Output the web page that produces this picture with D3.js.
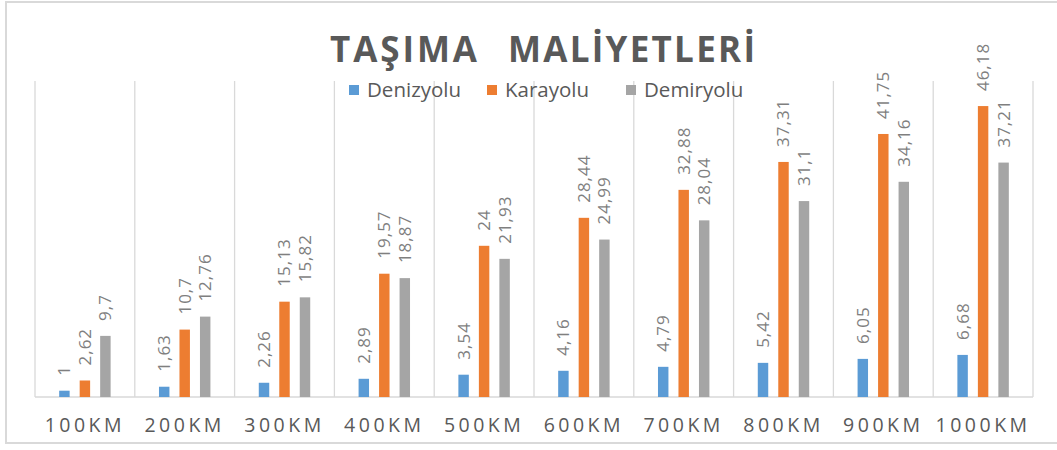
<!DOCTYPE html>
<html lang="tr"><head><meta charset="UTF-8">
<title>Taşıma Maliyetleri</title>
<script src="https://d3js.org/d3.v7.min.js"></script>
<style>
  body { margin: 0; background: #fff; }
  text { font-family: "Open Sans", "Liberation Sans", sans-serif; }
</style>
</head>
<body>
<script>
// chart data
var categories = ["100KM", "200KM", "300KM", "400KM", "500KM", "600KM", "700KM", "800KM", "900KM", "1000KM"];
var seriesNames = ["Denizyolu", "Karayolu", "Demiryolu"];
var denizyolu = [1, 1.63, 2.26, 2.89, 3.54, 4.16, 4.79, 5.42, 6.05, 6.68];
var karayolu = [2.62, 10.7, 15.13, 19.57, 24, 28.44, 32.88, 37.31, 41.75, 46.18];
var demiryolu = [9.7, 12.76, 15.82, 18.87, 21.93, 24.99, 28.04, 31.1, 34.16, 37.21];
var colors = ["#5b9bd5", "#ed7d31", "#a5a5a5"];
var titleWords = ["TAŞIMA", "MALİYETLERİ"];

var w = 1057, h = 450;
var values = [denizyolu, karayolu, demiryolu];

var svg = d3.select("body").append("svg")
  .attr("width", w).attr("height", h);

// outer frame
svg.append("rect")
  .attr("x", 6).attr("y", 2).attr("width", 1060).attr("height", 441)
  .attr("fill", "#fff").attr("stroke", "#d9d9d9").attr("stroke-width", 2);

var x0 = d3.scaleBand().domain(categories).range([35, 1033]).padding(0);
var x1 = d3.scaleBand().domain(seriesNames).range([0, x0.bandwidth()])
  .paddingInner(0.49).paddingOuter(1.18);
var y = d3.scaleLinear().domain([0, 50]).range([397, 82]);

// vertical gridlines
svg.append("g").selectAll("line")
  .data(categories.concat(["end"]))
  .enter().append("line")
  .attr("x1", function(d, i) { return 35 + i * x0.step(); })
  .attr("x2", function(d, i) { return 35 + i * x0.step(); })
  .attr("y1", y(50) - 1).attr("y2", y(0))
  .attr("stroke", "#d9d9d9").attr("stroke-width", 1.3);

// baseline
svg.append("line")
  .attr("x1", 35).attr("x2", 1033)
  .attr("y1", y(0)).attr("y2", y(0))
  .attr("stroke", "#d9d9d9").attr("stroke-width", 1.5);

// bars + labels
var groups = svg.append("g").selectAll("g")
  .data(categories)
  .enter().append("g")
  .attr("transform", function(d) { return "translate(" + x0(d) + ",0)"; });

groups.selectAll("rect")
  .data(function(d, i) { return seriesNames.map(function(s, k) { return { s: s, k: k, v: values[k][i] }; }); })
  .enter().append("rect")
  .attr("x", function(d) { return x1(d.s); })
  .attr("width", x1.bandwidth())
  .attr("y", function(d) { return y(d.v); })
  .attr("height", function(d) { return y(0) - y(d.v); })
  .attr("fill", function(d) { return colors[d.k]; });

groups.selectAll("text")
  .data(function(d, i) { return seriesNames.map(function(s, k) { return { s: s, k: k, v: values[k][i] }; }); })
  .enter().append("text")
  .attr("transform", function(d) {
    return "translate(" + (x1(d.s) + x1.bandwidth() / 2) + "," + (y(d.v) - 15) + ") rotate(-90)";
  })
  .attr("dy", "0.35em")
  .attr("font-size", 17)
  .attr("letter-spacing", 1)
  .attr("fill", "#7f7f7f")
  .text(function(d) { return String(d.v).replace(".", ","); });

// category axis labels
svg.append("g").selectAll("text")
  .data(categories)
  .enter().append("text")
  .attr("x", function(d) { return x0(d) + x0.bandwidth() / 2; })
  .attr("y", 432)
  .attr("text-anchor", "middle")
  .attr("font-size", 19.5)
  .attr("letter-spacing", 3.5)
  .attr("fill", "#595959")
  .text(function(d) { return d; });

// title (two words, wide gap between them)
var titleX = [330, 508], titleLen = [147, 247];
svg.append("g").selectAll("text")
  .data(titleWords)
  .enter().append("text")
  .attr("x", function(d, i) { return titleX[i]; })
  .attr("y", 62)
  .attr("font-size", 35)
  .attr("font-weight", "bold")
  .attr("fill", "#595959")
  .attr("textLength", function(d, i) { return titleLen[i]; })
  .attr("lengthAdjust", "spacing")
  .text(function(d) { return d; });

// legend
var legendX = [349, 487, 626];
var legend = svg.append("g").selectAll("g")
  .data(seriesNames)
  .enter().append("g")
  .attr("transform", function(d, i) { return "translate(" + legendX[i] + ",85)"; });
legend.append("rect")
  .attr("width", 10).attr("height", 10)
  .attr("fill", function(d, i) { return colors[i]; });
legend.append("text")
  .attr("x", 18).attr("y", 12)
  .attr("font-size", 20.5)
  .attr("fill", "#595959")
  .text(function(d) { return d; });
</script>
</body></html>
